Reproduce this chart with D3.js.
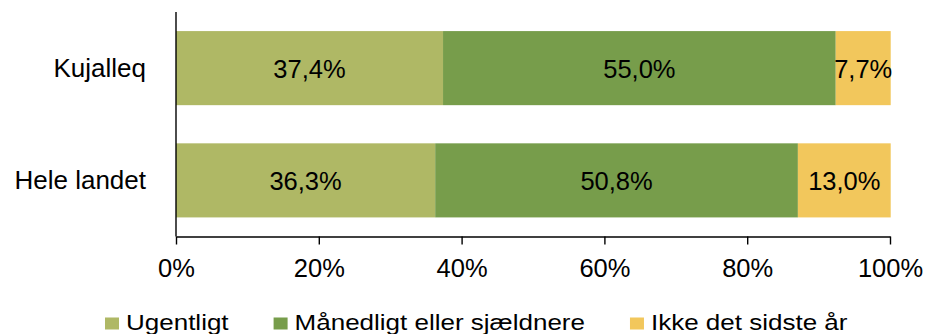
<!DOCTYPE html>
<html>
<head>
<meta charset="utf-8">
<script src="https://cdn.jsdelivr.net/npm/d3@7"></script>
<style>
  html, body { margin: 0; padding: 0; background: #fff; }
  svg { display: block; font-family: "Liberation Sans", Arial, sans-serif; }
</style>
</head>
<body>
<svg id="chart" width="925" height="334"></svg>
<script>
// Categories (top to bottom) and the share in each answer group, in percent
const categories = ["Kujalleq", "Hele landet"];
const ugentligt = [37.4, 36.3];
const maanedligt = [55.0, 50.8];
const ikkeSidsteAar = [7.7, 13.0];

const seriesNames = ["Ugentligt", "Månedligt eller sjældnere", "Ikke det sidste år"];
const seriesColors = ["#AFB865", "#779D4B", "#F2C75C"];
const xTicks = [0, 20, 40, 60, 80, 100];

const svg = d3.select("#chart");
const margin = { left: 176, right: 35, top: 12, axisY: 236.5 };
const width = 925;

const x = d3.scaleLinear().domain([0, 100]).range([margin.left, width - margin.right]);
const y = d3.scaleBand().domain(categories).range([12, 236.5]).paddingInner(0.34).paddingOuter(0.17);

const da = d3.formatLocale({ decimal: ",", thousands: ".", grouping: [3], currency: ["", " kr."] });
const fmt = da.format(".1f");

// Stack the three series per category
const rows = categories.map((c, i) => ({
  cat: c,
  values: [ugentligt[i], maanedligt[i], ikkeSidsteAar[i]]
}));
const segments = [];
rows.forEach(r => {
  let acc = 0;
  r.values.forEach((v, s) => {
    segments.push({ cat: r.cat, s, v, x0: acc, x1: acc + v });
    acc += v;
  });
});

const g = svg.append("g");

g.selectAll("rect.seg")
  .data(segments)
  .join("rect")
  .attr("class", "seg")
  .attr("x", d => x(d.x0))
  .attr("width", d => x(d.x1) - x(d.x0))
  .attr("y", d => y(d.cat))
  .attr("height", y.bandwidth())
  .attr("fill", d => seriesColors[d.s]);

g.selectAll("text.val")
  .data(segments)
  .join("text")
  .attr("class", "val")
  .attr("x", d => (x(d.x0) + x(d.x1)) / 2)
  .attr("y", d => y(d.cat) + y.bandwidth() / 2)
  .attr("dy", "0.38em")
  .attr("text-anchor", "middle")
  .attr("font-size", 25.5)
  .attr("fill", "#000")
  .text(d => fmt(d.v) + "%");

// Category labels
g.selectAll("text.cat")
  .data(categories)
  .join("text")
  .attr("class", "cat")
  .attr("x", 146)
  .attr("y", d => y(d) + y.bandwidth() / 2)
  .attr("dy", "0.33em")
  .attr("text-anchor", "end")
  .attr("font-size", 26)
  .attr("fill", "#000")
  .text(d => d);

// Vertical axis line
g.append("line")
  .attr("x1", margin.left).attr("x2", margin.left)
  .attr("y1", margin.top).attr("y2", margin.axisY)
  .attr("stroke", "#000").attr("stroke-width", 1.4);

// Horizontal axis
const xAxis = d3.axisBottom(x)
  .tickValues(xTicks)
  .tickFormat(d => d + "%")
  .tickSize(8)
  .tickSizeOuter(0)
  .tickPadding(14.5);

const ax = g.append("g")
  .attr("transform", `translate(0,${margin.axisY})`)
  .call(xAxis);
ax.select(".domain").attr("stroke", "#000").attr("stroke-width", 1.4);
ax.selectAll(".tick line").attr("stroke", "#000").attr("stroke-width", 1.4);
ax.selectAll(".tick text")
  .attr("font-size", 25.5)
  .attr("font-family", "'Liberation Sans', Arial, sans-serif")
  .attr("fill", "#000");

// Legend
const legend = g.append("g");
let lx = 105;
seriesNames.forEach((name, i) => {
  legend.append("rect")
    .attr("x", lx).attr("y", 317.5)
    .attr("width", 14).attr("height", 12)
    .attr("fill", seriesColors[i]);
  const t = legend.append("text")
    .attr("transform", `translate(${lx + 21},329.5) scale(1,0.87)`)
    .attr("font-size", 26)
    .attr("fill", "#000")
    .text(name);
  lx += 21 + t.node().getComputedTextLength() + 45;
});
</script>
</body>
</html>
